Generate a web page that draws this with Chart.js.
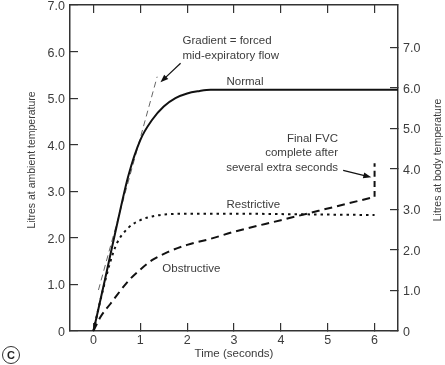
<!DOCTYPE html>
<html>
<head>
<meta charset="utf-8">
<script src="https://cdn.jsdelivr.net/npm/chart.js@4"></script>
<style>
  html, body { margin: 0; padding: 0; background: #fff; }
  #wrap { width: 445px; height: 365px; position: relative; }
</style>
</head>
<body>
<div id="wrap"><canvas id="spiro"></canvas></div>
<script>
// values (time in s, volume in litres, ambient scale)
const normalTime = [0, 0.25, 0.5, 0.75, 1.0, 1.25, 1.5, 1.75, 2.0, 2.25, 2.5, 3, 4, 5, 6, 6.5]
const normalLitres = [0, 1.12, 2.27, 3.35, 4.1, 4.53, 4.82, 5.0, 5.1, 5.15, 5.18, 5.18, 5.18, 5.18, 5.18, 5.18]

const restrictiveTime = [0, 0.1, 0.2, 0.35, 0.5, 0.75, 1.0, 1.25, 1.5, 2, 3, 4, 5, 6]
const restrictiveLitres = [0, 0.45, 0.87, 1.45, 1.88, 2.22, 2.38, 2.46, 2.5, 2.52, 2.52, 2.51, 2.5, 2.49]

const obstructiveTime = [0, 0.15, 0.36, 0.75, 1.0, 1.25, 1.6, 2.0, 2.5, 3.0, 4.0, 5.0, 6.0]
const obstructiveLitres = [0, 0.3, 0.58, 1.08, 1.32, 1.52, 1.7, 1.85, 1.98, 2.13, 2.38, 2.63, 2.88]

// final FVC jump after extra seconds
const finalTime = [6, 6]
const finalLitres = [2.88, 3.6]

// tangent line (gradient = FEF)
const gradientTime = [0.107, 1.36]
const gradientLitres = [0.88, 5.46]

const timeTicks = [0, 1, 2, 3, 4, 5, 6]
const ambientTicks = [0, 1, 2, 3, 4, 5, 6, 7]
const bodyTicks = [0, 1, 2, 3, 4, 5, 6, 7]
const bodyMax = 8.05

const FONT = '"Liberation Sans", Arial, sans-serif'
const TEXT = '#3c3c3c'
const AXIS = '#333'

const pts = (xs, ys) => xs.map((x, i) => ({ x: x, y: ys[i] }))
const fmt = v => v === 0 ? '0' : v.toFixed(1)

// annotation text, in data units
const notes = [
  { text: 'Gradient = forced', t: 1.9, v: 6.24, align: 'left' },
  { text: 'mid-expiratory flow', t: 1.9, v: 5.9, align: 'left' },
  { text: 'Normal', t: 2.84, v: 5.36, align: 'left' },
  { text: 'Final FVC', t: 5.22, v: 4.12, align: 'right' },
  { text: 'complete after', t: 5.22, v: 3.82, align: 'right' },
  { text: 'several extra seconds', t: 5.22, v: 3.5, align: 'right' },
  { text: 'Restrictive', t: 2.84, v: 2.7, align: 'left' },
  { text: 'Obstructive', t: 1.47, v: 1.33, align: 'left' }
]
const arrows = [
  { from: [1.86, 5.75], to: [1.43, 5.34] },
  { from: [5.33, 3.45], to: [5.93, 3.3] }
]

const notesPlugin = {
  id: 'notes',
  afterDraw(chart) {
    const { ctx, scales, chartArea } = chart
    const x = scales.x, y = scales.y
    ctx.save()
    ctx.fillStyle = TEXT
    ctx.font = '11.5px ' + FONT
    ctx.textBaseline = 'middle'
    notes.forEach(n => {
      ctx.textAlign = n.align
      ctx.fillText(n.text, x.getPixelForValue(n.t), y.getPixelForValue(n.v))
    })

    ctx.strokeStyle = '#111'
    ctx.fillStyle = '#111'
    ctx.lineWidth = 1.2
    arrows.forEach(a => {
      const x1 = x.getPixelForValue(a.from[0]), y1 = y.getPixelForValue(a.from[1])
      const x2 = x.getPixelForValue(a.to[0]), y2 = y.getPixelForValue(a.to[1])
      const ang = Math.atan2(y2 - y1, x2 - x1)
      ctx.beginPath()
      ctx.moveTo(x1, y1)
      ctx.lineTo(x2 - 5 * Math.cos(ang), y2 - 5 * Math.sin(ang))
      ctx.stroke()
      ctx.beginPath()
      ctx.moveTo(x2, y2)
      ctx.lineTo(x2 - 8 * Math.cos(ang) + 3 * Math.sin(ang), y2 - 8 * Math.sin(ang) - 3 * Math.cos(ang))
      ctx.lineTo(x2 - 8 * Math.cos(ang) - 3 * Math.sin(ang), y2 - 8 * Math.sin(ang) + 3 * Math.cos(ang))
      ctx.closePath()
      ctx.fill()
    })

    // vertical axis titles, both read bottom to top
    ctx.fillStyle = TEXT
    ctx.font = '10.5px ' + FONT
    ctx.textAlign = 'center'
    const midY = (chartArea.top + chartArea.bottom) / 2 - 8
    ;[['Litres at ambient temperature', 32], ['Litres at body temperature', 438]].forEach(([txt, cx]) => {
      ctx.save()
      ctx.translate(cx, midY)
      ctx.rotate(-Math.PI / 2)
      ctx.fillText(txt, 0, 0)
      ctx.restore()
    })

    // panel letter
    ctx.beginPath()
    ctx.arc(11, 355, 8.5, 0, Math.PI * 2)
    ctx.strokeStyle = AXIS
    ctx.lineWidth = 1
    ctx.stroke()
    ctx.fillStyle = '#222'
    ctx.font = 'bold 11px ' + FONT
    ctx.fillText('C', 11, 355.5)
    ctx.restore()
  }
}

const tickGrid = { drawOnChartArea: false, tickLength: -8, color: AXIS, lineWidth: 1.2 }
const border = { color: AXIS, width: 1.5 }
const setTicks = list => scale => { scale.ticks = list.map(v => ({ value: v })) }
const fixWidth = w => s => { s.width = w; s.paddingTop = 0; s.paddingBottom = 0 }

new Chart(document.getElementById('spiro'), {
  type: 'line',
  data: {
    datasets: [
      { label: 'Normal', data: pts(normalTime, normalLitres), borderColor: '#111', borderWidth: 2 },
      { label: 'Restrictive', data: pts(restrictiveTime, restrictiveLitres), borderColor: '#111', borderWidth: 2, borderDash: [2.5, 4] },
      { label: 'Obstructive', data: pts(obstructiveTime, obstructiveLitres), borderColor: '#111', borderWidth: 2, borderDash: [8, 5] },
      { label: 'Final FVC', data: pts(finalTime, finalLitres), borderColor: '#111', borderWidth: 2, borderDash: [6, 4] },
      { label: 'Gradient', data: pts(gradientTime, gradientLitres), borderColor: '#666', borderWidth: 1, borderDash: [6, 4] }
    ]
  },
  options: {
    responsive: true,
    maintainAspectRatio: false,
    animation: false,
    layout: { padding: 0 },
    elements: {
      point: { radius: 0 },
      line: { cubicInterpolationMode: 'monotone', fill: false }
    },
    plugins: { legend: { display: false }, tooltip: { enabled: false } },
    scales: {
      x: {
        type: 'linear', position: 'bottom', min: -0.5, max: 6.5,
        afterBuildTicks: setTicks(timeTicks),
        afterFit: s => { s.height = 34 },
        grid: tickGrid, border: border,
        ticks: { color: TEXT, font: { family: FONT, size: 12.5 }, padding: 10, callback: v => String(v) },
        title: { display: true, text: 'Time (seconds)', color: TEXT, font: { family: FONT, size: 11.5 }, padding: { top: 0, bottom: 4 } }
      },
      xTop: {
        type: 'linear', position: 'top', min: -0.5, max: 6.5,
        afterBuildTicks: setTicks(timeTicks),
        afterFit: s => { s.height = 5 },
        grid: tickGrid, border: border,
        ticks: { color: 'rgba(0,0,0,0)', font: { size: 1 } }
      },
      y: {
        type: 'linear', position: 'left', min: 0, max: 7,
        afterBuildTicks: setTicks(ambientTicks),
        afterFit: fixWidth(70),
        grid: tickGrid, border: border,
        ticks: { color: TEXT, font: { family: FONT, size: 12.5 }, padding: 13, labelOffset: 1.5, callback: fmt }
      },
      yBody: {
        type: 'linear', position: 'right', min: 0, max: bodyMax,
        afterBuildTicks: setTicks(bodyTicks),
        afterFit: fixWidth(47),
        grid: tickGrid, border: border,
        ticks: { color: TEXT, font: { family: FONT, size: 12.5 }, padding: 13, labelOffset: 1.5, callback: fmt }
      }
    }
  },
  plugins: [notesPlugin]
});
</script>
</body>
</html>
